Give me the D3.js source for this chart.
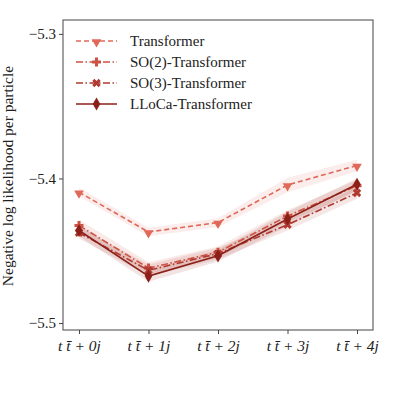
<!doctype html>
<html>
<head>
<meta charset="utf-8">
<script src="https://cdn.jsdelivr.net/npm/d3@7"></script>
<style>
  body { margin: 0; background: #fff; }
  svg { display: block; }
  svg text { font-family: "Liberation Serif", "DejaVu Serif", serif; }
</style>
</head>
<body>
<script>
// Data
const categories = ["0j", "1j", "2j", "3j", "4j"];
const seriesNames = ["Transformer", "SO(2)-Transformer", "SO(3)-Transformer", "LLoCa-Transformer"];
const transformer = [-5.4095, -5.4370, -5.4305, -5.4045, -5.3910];
const so2 = [-5.4325, -5.4620, -5.4510, -5.4260, -5.4050];
const so3 = [-5.4375, -5.4635, -5.4520, -5.4320, -5.4100];
const lloca = [-5.4360, -5.4675, -5.4535, -5.4280, -5.4040];
const errTransformer = [0.003, 0.003, 0.003, 0.005, 0.004];
const errSo2 = [0.004, 0.004, 0.004, 0.004, 0.004];
const errSo3 = [0.004, 0.004, 0.004, 0.004, 0.004];
const errLloca = [0.004, 0.004, 0.004, 0.005, 0.004];
const yTicks = [-5.5, -5.4, -5.3];

const width = 393, height = 393;
const marginTop = 20, marginRight = 20, marginBottom = 63, marginLeft = 63;

const series = [
  {name: seriesNames[0], values: transformer, err: errTransformer, color: "#e06858", dash: "5,3", symbol: "tri"},
  {name: seriesNames[1], values: so2, err: errSo2, color: "#cc5244", dash: "7,2.5,1.5,2.5", symbol: "plus"},
  {name: seriesNames[2], values: so3, err: errSo3, color: "#b03a30", dash: "7,2.5,1.5,2.5", symbol: "x"},
  {name: seriesNames[3], values: lloca, err: errLloca, color: "#8c2018", dash: null, symbol: "diamond"}
];

const x = d3.scalePoint(categories, [marginLeft, width - marginRight]).padding(0.23);
const y = d3.scaleLinear([-5.5048, -5.2904], [height - marginBottom, marginTop]);

const svg = d3.select("body").append("svg")
    .attr("width", width)
    .attr("height", height)
    .attr("viewBox", [0, 0, width, height]);

// Error bands
const area = d3.area()
    .x((d, i) => x(categories[i]))
    .y0((d) => y(d[0] - d[1]))
    .y1((d) => y(d[0] + d[1]));

svg.append("g")
  .selectAll("path")
  .data(series)
  .join("path")
    .attr("fill", (d) => d.color)
    .attr("fill-opacity", 0.12)
    .attr("d", (d) => area(d.values.map((v, i) => [v, d.err[i]])));

const line = d3.line().x((d, i) => x(categories[i])).y((d) => y(d));

function marker(g, s, cx, cy) {
  const c = s.color;
  if (s.symbol === "tri") {
    g.append("path").attr("d", d3.symbol(d3.symbolTriangle, 40)()).attr("transform", `translate(${cx},${cy + 1}) rotate(180)`).attr("fill", c);
  } else if (s.symbol === "plus") {
    g.append("path").attr("d", d3.symbol(d3.symbolCross, 45)()).attr("transform", `translate(${cx},${cy})`).attr("fill", c);
  } else if (s.symbol === "x") {
    g.append("path").attr("d", d3.symbol(d3.symbolCross, 45)()).attr("transform", `translate(${cx},${cy}) rotate(45)`).attr("fill", c);
  } else {
    g.append("path").attr("d", d3.symbol(d3.symbolDiamond, 50)()).attr("transform", `translate(${cx},${cy})`).attr("fill", c);
  }
}

// Lines and markers
for (const s of series) {
  const g = svg.append("g");
  g.append("path")
      .attr("fill", "none")
      .attr("stroke", s.color)
      .attr("stroke-width", 1.6)
      .attr("stroke-dasharray", s.dash)
      .attr("d", line(s.values));
  s.values.forEach((v, i) => marker(g, s, x(categories[i]), y(v)));
}

// Frame
svg.append("rect")
    .attr("x", marginLeft).attr("y", marginTop)
    .attr("width", width - marginLeft - marginRight)
    .attr("height", height - marginTop - marginBottom)
    .attr("fill", "none").attr("stroke", "#444").attr("stroke-width", 1);

// Axes
const xAxis = svg.append("g")
    .attr("transform", `translate(0,${height - marginBottom})`)
    .call(d3.axisBottom(x).tickSize(4).tickSizeOuter(0).tickFormat(() => ""));
xAxis.select(".domain").remove();
xAxis.selectAll("line").attr("stroke", "#444");
xAxis.selectAll(".tick").append("text")
    .attr("y", 21)
    .attr("fill", "#222")
    .attr("text-anchor", "middle")
    .attr("font-size", 15.5)
    .attr("font-style", "italic")
    .attr("font-family", "Liberation Serif")
    .text((d) => `t t\u0304 + ${d[0]}j`);

const yAxis = svg.append("g")
    .attr("transform", `translate(${marginLeft},0)`)
    .call(d3.axisLeft(y).tickValues(yTicks).tickSize(4).tickFormat((d) => d3.format(".1f")(d).replace("-", "\u2212")));
yAxis.select(".domain").remove();
yAxis.selectAll("line").attr("stroke", "#444");
yAxis.selectAll("text").attr("font-size", 15).attr("fill", "#222").attr("font-family", "Liberation Serif");

svg.append("text")
    .attr("transform", `translate(13,${(marginTop + height - marginBottom) / 2 + 1}) rotate(-90)`)
    .attr("text-anchor", "middle")
    .attr("font-size", 15.5)
    .attr("fill", "#222")
    .text("Negative log likelihood per particle");

// Legend
const legend = svg.append("g").attr("transform", `translate(76,41)`);
series.forEach((s, i) => {
  const g = legend.append("g").attr("transform", `translate(0,${i * 21})`);
  g.append("line").attr("x1", 0).attr("x2", 41).attr("stroke", s.color).attr("stroke-width", 1.6).attr("stroke-dasharray", s.dash);
  marker(g, s, 20.5, 0);
  g.append("text").attr("x", 54).attr("dy", "0.35em").attr("font-size", 15).attr("fill", "#222").text(s.name);
});
</script>
</body>
</html>
